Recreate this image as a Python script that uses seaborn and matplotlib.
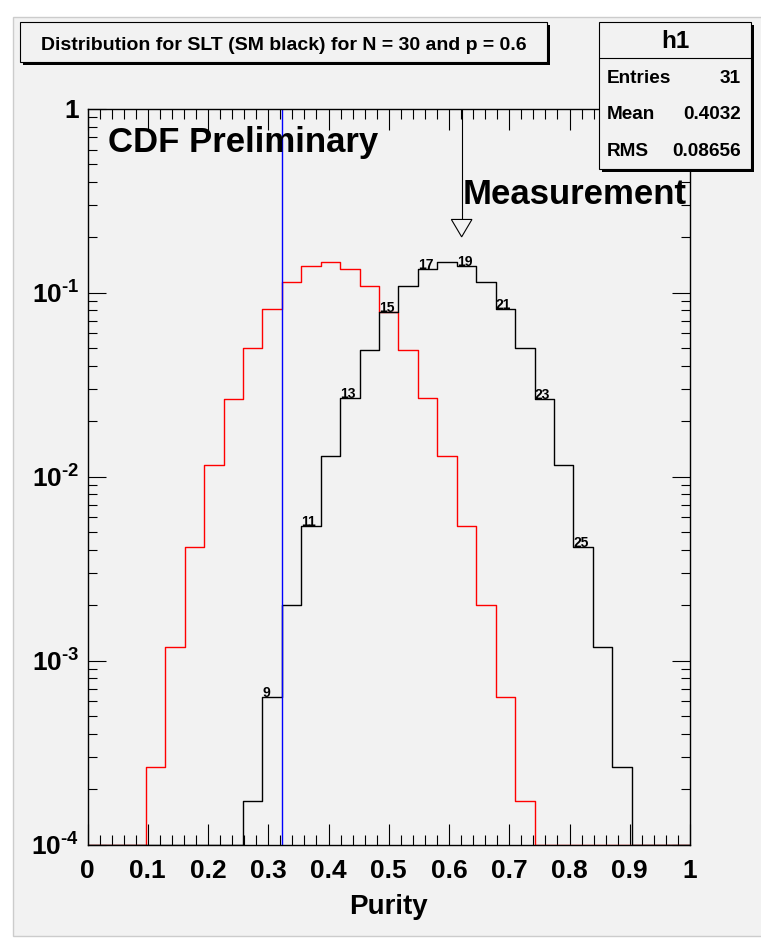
import numpy as np
import pandas as pd
import matplotlib
matplotlib.use("Agg")
import matplotlib.pyplot as plt
from matplotlib.patches import Rectangle
from matplotlib.lines import Line2D
from matplotlib.ticker import FixedLocator, FixedFormatter, MultipleLocator, LogLocator, NullFormatter
import seaborn as sns

# -----------------------------
# DATA
# -----------------------------
N_BINS = 31
BIN_EDGES = [k / N_BINS for k in range(N_BINS + 1)]

# SM black (p = 0.6), bins 0..30, 0 = below 1e-4
SM_VALUES = [0, 0, 0, 0, 0, 0, 0, 0,
             1.72e-4, 6.3e-4, 2.0e-3, 5.4e-3, 1.29e-2, 2.66e-2, 4.87e-2, 7.8e-2,
             1.09e-1, 1.35e-1, 1.47e-1, 1.39e-1, 1.145e-1, 8.2e-2, 5.03e-2, 2.63e-2,
             1.15e-2, 4.15e-3, 1.19e-3, 2.64e-4,
             0, 0, 0]

# red curve, bins 0..30
BG_VALUES = [0, 0, 0,
             2.65e-4, 1.19e-3, 4.14e-3, 1.15e-2, 2.63e-2, 5.03e-2, 8.2e-2, 1.145e-1,
             1.39e-1, 1.47e-1, 1.35e-1, 1.09e-1, 7.8e-2, 4.87e-2, 2.66e-2, 1.29e-2,
             5.4e-3, 2.0e-3, 6.3e-4, 1.72e-4,
             0, 0, 0, 0, 0, 0, 0, 0]

LABEL_BINS = [9, 11, 13, 15, 17, 19, 21, 23, 25]

CUT_VALUE = 0.322          # blue line
MEASUREMENT = 0.621        # arrow

XTICKS = [0, 0.1, 0.2, 0.3, 0.4, 0.5, 0.6, 0.7, 0.8, 0.9, 1.0]
XTICK_LABELS = ["0", "0.1", "0.2", "0.3", "0.4", "0.5", "0.6", "0.7", "0.8", "0.9", "1"]
YTICKS = [1e-4, 1e-3, 1e-2, 1e-1, 1]
YTICK_LABELS = [r"$10^{\text{-4}}$", r"$10^{\text{-3}}$", r"$10^{\text{-2}}$",
                r"$10^{\text{-1}}$", "1"]

TITLE = "Distribution for SLT (SM black) for N = 30 and p = 0.6"
STATS = [("Entries", "31"), ("Mean", "0.4032"), ("RMS", "0.08656")]

YMIN, YMAX = 1e-4, 1.0

# -----------------------------
# STYLE
# -----------------------------
W, H = 761, 940
GRAY = "#f2f2f2"

sns.set_theme(style="ticks")
plt.rcParams["font.family"] = ["Liberation Sans", "DejaVu Sans"]
plt.rcParams["font.weight"] = "bold"
plt.rcParams["text.color"] = "black"
plt.rcParams["axes.labelcolor"] = "black"
plt.rcParams["xtick.color"] = "black"
plt.rcParams["ytick.color"] = "black"
plt.rcParams["mathtext.fontset"] = "custom"
plt.rcParams["mathtext.rm"] = "Liberation Sans:bold"
plt.rcParams["mathtext.it"] = "Liberation Sans:bold"
plt.rcParams["mathtext.bf"] = "Liberation Sans:bold"


def fx(px):
    return px / W


def fy(py):
    return 1 - py / H


fig = plt.figure(figsize=(W / 100, H / 100), dpi=100, facecolor="white")

# canvas
fig.add_artist(Rectangle((fx(12.5), fy(936)), fx(761) - fx(12.5) + 0.01, fy(17) - fy(936),
                         transform=fig.transFigure, facecolor=GRAY, edgecolor="#cccccc",
                         linewidth=1, zorder=0))

ax = fig.add_axes([fx(87.5), fy(844.5), fx(690) - fx(87.5), fy(108.7) - fy(844.5)])
ax.set_facecolor(GRAY)

# -----------------------------
# Histograms
# -----------------------------
centers = [(BIN_EDGES[k] + BIN_EDGES[k + 1]) / 2 for k in range(N_BINS)]
df = pd.DataFrame({
    "purity": centers,
    "bg": np.maximum(BG_VALUES, YMIN),
    "sm": np.maximum(SM_VALUES, YMIN),
})

sns.histplot(data=df, x="purity", weights="bg", bins=BIN_EDGES, element="step",
             fill=False, color="red", linewidth=1, ax=ax)
sns.histplot(data=df, x="purity", weights="sm", bins=BIN_EDGES, element="step",
             fill=False, color="black", linewidth=1, ax=ax)

for k in LABEL_BINS:
    ax.text(BIN_EDGES[k], SM_VALUES[k], str(k), ha="left", va="baseline",
            fontsize=10, fontweight="bold", color="black")

ax.axvline(CUT_VALUE, color="blue", linewidth=1)

# measurement arrow
ax.plot([MEASUREMENT, MEASUREMENT], [YMAX, 0.25], color="black", linewidth=0.8)
ax.fill([MEASUREMENT - 0.0171, MEASUREMENT + 0.0171, MEASUREMENT], [0.25, 0.25, 0.201],
        facecolor=GRAY, edgecolor="black", linewidth=0.8)

# -----------------------------
# Axes
# -----------------------------
ax.set_yscale("log")
ax.set_xlim(0, 1)
ax.set_ylim(YMIN, YMAX)
ax.set_xlabel("")
ax.set_ylabel("")

ax.xaxis.set_major_locator(FixedLocator(XTICKS))
ax.xaxis.set_major_formatter(FixedFormatter(XTICK_LABELS))
ax.xaxis.set_minor_locator(MultipleLocator(0.02))
ax.yaxis.set_major_locator(FixedLocator(YTICKS))
ax.yaxis.set_major_formatter(FixedFormatter(YTICK_LABELS))
ax.yaxis.set_minor_locator(LogLocator(base=10, subs=np.arange(2, 10)))
ax.yaxis.set_minor_formatter(NullFormatter())

ax.tick_params(which="both", direction="in", top=True, right=True, color="black",
               labelcolor="black", width=0.8)
ax.tick_params(axis="x", which="major", length=15, pad=10.4, labelsize=19)
ax.tick_params(axis="x", which="minor", length=7.2)
ax.tick_params(axis="y", which="major", length=13, pad=6, labelsize=19)
ax.tick_params(axis="y", which="minor", length=6.5)
for s in ax.spines.values():
    s.set_color("black")
    s.set_linewidth(1)

fig.text(fx(388.75), fy(914), "Purity", ha="center", va="baseline", fontsize=20, fontweight="bold")

fig.text(fx(107.5), fy(152), "CDF Preliminary", ha="left", va="baseline", fontsize=25,
         fontweight="bold", zorder=5)
fig.text(fx(463), fy(204), "Measurement", ha="left", va="baseline", fontsize=25,
         fontweight="bold", zorder=5)

# -----------------------------
# Title box
# -----------------------------
def shadow_box(x0, y0, x1, y1):
    fig.add_artist(Rectangle((fx(x0 + 3), fy(y1 + 3)), fx(x1) - fx(x0), fy(y0) - fy(y1),
                             transform=fig.transFigure, facecolor="black", edgecolor="none",
                             zorder=6))
    fig.add_artist(Rectangle((fx(x0), fy(y1)), fx(x1) - fx(x0), fy(y0) - fy(y1),
                             transform=fig.transFigure, facecolor=GRAY, edgecolor="black",
                             linewidth=0.8, zorder=7))


shadow_box(20, 22, 547, 62)
fig.text(fx(283.5), fy(50), TITLE, ha="center", va="baseline", fontsize=14,
         fontweight="bold", zorder=8)

# -----------------------------
# Stats box
# -----------------------------
shadow_box(599, 21.7, 751, 169)
fig.add_artist(Line2D([fx(599), fx(751)], [fy(58.3), fy(58.3)], transform=fig.transFigure,
                      color="black", linewidth=0.8, zorder=8))
fig.text(fx(675), fy(47.7), "h1", ha="center", va="baseline", fontsize=17.5,
         fontweight="bold", zorder=8)
for (name, val), base in zip(STATS, [82.7, 119, 156]):
    fig.text(fx(607), fy(base), name, ha="left", va="baseline", fontsize=13.7,
             fontweight="bold", zorder=8)
    fig.text(fx(741), fy(base), val, ha="right", va="baseline", fontsize=13.7,
             fontweight="bold", zorder=8)

fig.savefig("out.png", dpi=100, facecolor=fig.get_facecolor())
